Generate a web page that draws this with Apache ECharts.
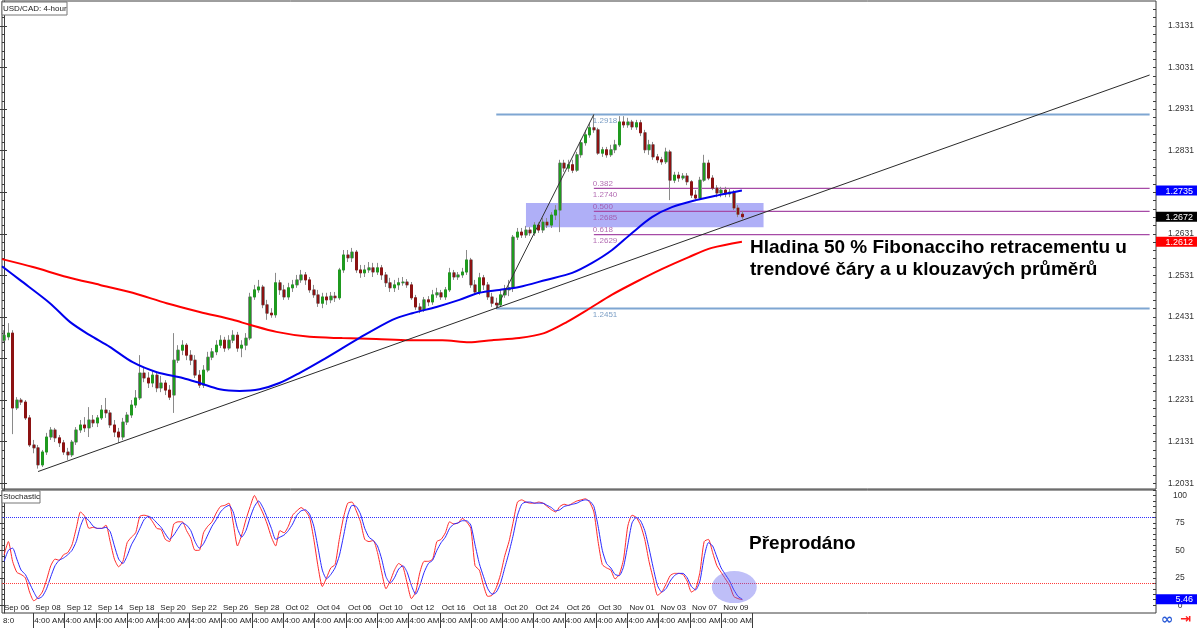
<!DOCTYPE html>
<html><head><meta charset="utf-8">
<script src="https://cdn.jsdelivr.net/npm/echarts@6.0.0/dist/echarts.min.js"></script>
<style>html,body{margin:0;padding:0;background:#fff}#c{width:1200px;height:628px}</style>
</head><body><div id="c"></div>
<script>
// ---------- DATA ----------
const candles = [ // [open, close, low, high]
[1.2375,1.2387,1.2371,1.2399],[1.2383,1.2392,1.2375,1.2416],[1.2392,1.2212,1.2149,1.2399],[1.2212,1.2231,1.2207,1.2238],[1.2231,1.2226,1.2219,1.2236],
[1.2226,1.2188,1.2183,1.2231],[1.2188,1.2123,1.2118,1.2195],[1.2123,1.2116,1.2103,1.2135],[1.2116,1.2075,1.2066,1.2123],[1.2075,1.2106,1.2070,1.2111],
[1.2106,1.2142,1.2099,1.2152],[1.2142,1.2159,1.2135,1.2166],[1.2159,1.2140,1.2130,1.2164],[1.2140,1.2128,1.2118,1.2147],[1.2128,1.2106,1.2099,1.2135],
[1.2106,1.2099,1.2087,1.2116],[1.2099,1.2130,1.2094,1.2135],[1.2130,1.2159,1.2123,1.2166],[1.2159,1.2171,1.2152,1.2183],[1.2171,1.2164,1.2154,1.2190],
[1.2164,1.2183,1.2142,1.2214],[1.2183,1.2176,1.2166,1.2195],[1.2176,1.2188,1.2166,1.2195],[1.2188,1.2207,1.2183,1.2219],[1.2207,1.2200,1.2188,1.2236],
[1.2200,1.2171,1.2164,1.2207],[1.2171,1.2154,1.2142,1.2183],[1.2154,1.2142,1.2128,1.2164],[1.2142,1.2178,1.2135,1.2188],[1.2178,1.2195,1.2171,1.2202],
[1.2195,1.2219,1.2188,1.2231],[1.2219,1.2236,1.2212,1.2255],[1.2236,1.2296,1.2231,1.2339],[1.2296,1.2284,1.2274,1.2308],[1.2284,1.2272,1.2260,1.2298],
[1.2272,1.2291,1.2262,1.2303],[1.2291,1.2260,1.2250,1.2298],[1.2260,1.2272,1.2250,1.2289],[1.2272,1.2255,1.2243,1.2279],[1.2255,1.2238,1.2231,1.2267],
[1.2243,1.2327,1.2200,1.2392],[1.2327,1.2351,1.2320,1.2363],[1.2351,1.2363,1.2339,1.2375],[1.2363,1.2339,1.2327,1.2368],[1.2339,1.2327,1.2315,1.2351],
[1.2327,1.2291,1.2284,1.2339],[1.2291,1.2267,1.2260,1.2303],[1.2267,1.2303,1.2260,1.2315],[1.2303,1.2334,1.2298,1.2347],[1.2334,1.2347,1.2327,1.2356],
[1.2347,1.2363,1.2339,1.2375],[1.2363,1.2375,1.2356,1.2387],[1.2375,1.2356,1.2347,1.2383],[1.2356,1.2375,1.2351,1.2387],[1.2375,1.2387,1.2368,1.2399],
[1.2387,1.2356,1.2347,1.2395],[1.2356,1.2363,1.2334,1.2375],[1.2363,1.2380,1.2351,1.2392],[1.2380,1.2479,1.2375,1.2489],[1.2479,1.2496,1.2472,1.2508],
[1.2496,1.2503,1.2489,1.2520],[1.2503,1.2460,1.2452,1.2508],[1.2460,1.2440,1.2424,1.2472],[1.2440,1.2436,1.2429,1.2452],[1.2436,1.2513,1.2429,1.2537],
[1.2513,1.2496,1.2484,1.2520],[1.2496,1.2479,1.2472,1.2508],[1.2479,1.2501,1.2472,1.2513],[1.2501,1.2508,1.2491,1.2520],[1.2508,1.2520,1.2501,1.2532],
[1.2520,1.2532,1.2513,1.2544],[1.2532,1.2520,1.2508,1.2539],[1.2520,1.2496,1.2489,1.2527],[1.2496,1.2484,1.2477,1.2508],[1.2484,1.2464,1.2455,1.2496],
[1.2464,1.2479,1.2452,1.2489],[1.2479,1.2472,1.2460,1.2489],[1.2472,1.2481,1.2464,1.2491],[1.2481,1.2477,1.2467,1.2491],[1.2477,1.2544,1.2472,1.2549],
[1.2544,1.2580,1.2537,1.2592],[1.2580,1.2573,1.2563,1.2592],[1.2573,1.2587,1.2563,1.2597],[1.2587,1.2544,1.2537,1.2592],[1.2544,1.2537,1.2525,1.2556],
[1.2537,1.2544,1.2527,1.2556],[1.2544,1.2549,1.2537,1.2563],[1.2549,1.2539,1.2527,1.2561],[1.2539,1.2549,1.2532,1.2561],[1.2549,1.2532,1.2520,1.2556],
[1.2532,1.2513,1.2503,1.2539],[1.2513,1.2501,1.2491,1.2525],[1.2501,1.2508,1.2491,1.2520],[1.2508,1.2513,1.2496,1.2525],[1.2513,1.2515,1.2506,1.2527],
[1.2515,1.2508,1.2501,1.2522],[1.2508,1.2477,1.2472,1.2515],[1.2477,1.2455,1.2448,1.2484],[1.2455,1.2448,1.2440,1.2464],[1.2448,1.2472,1.2443,1.2479],
[1.2472,1.2467,1.2457,1.2481],[1.2467,1.2484,1.2460,1.2496],[1.2484,1.2489,1.2477,1.2501],[1.2489,1.2479,1.2472,1.2496],[1.2479,1.2496,1.2472,1.2503],
[1.2496,1.2537,1.2491,1.2549],[1.2537,1.2527,1.2520,1.2544],[1.2527,1.2532,1.2520,1.2539],[1.2532,1.2539,1.2525,1.2549],[1.2539,1.2568,1.2532,1.2592],
[1.2568,1.2508,1.2501,1.2573],[1.2508,1.2491,1.2484,1.2520],[1.2491,1.2525,1.2484,1.2537],[1.2525,1.2508,1.2496,1.2532],[1.2508,1.2479,1.2472,1.2515],
[1.2479,1.2464,1.2455,1.2489],[1.2464,1.2460,1.2451,1.2477],[1.2460,1.2484,1.2455,1.2496],[1.2484,1.2496,1.2477,1.2508],[1.2496,1.2501,1.2481,1.2520],
[1.2501,1.2623,1.2491,1.2628],[1.2623,1.2635,1.2616,1.2645],[1.2635,1.2628,1.2621,1.2645],[1.2628,1.2640,1.2621,1.2650],[1.2640,1.2633,1.2626,1.2647],
[1.2633,1.2652,1.2626,1.2659],[1.2652,1.2640,1.2633,1.2659],[1.2640,1.2659,1.2633,1.2669],[1.2659,1.2652,1.2645,1.2669],[1.2652,1.2676,1.2645,1.2683],
[1.2676,1.2688,1.2664,1.2700],[1.2688,1.2801,1.2635,1.2809],[1.2801,1.2789,1.2780,1.2809],[1.2789,1.2797,1.2780,1.2809],[1.2797,1.2784,1.2777,1.2809],
[1.2784,1.2821,1.2780,1.2828],[1.2821,1.2850,1.2814,1.2857],[1.2850,1.2869,1.2843,1.2881],[1.2869,1.2886,1.2862,1.2898],[1.2886,1.2881,1.2874,1.2918],
[1.2881,1.2825,1.2821,1.2886],[1.2825,1.2833,1.2816,1.2840],[1.2833,1.2821,1.2814,1.2840],[1.2821,1.2833,1.2816,1.2845],[1.2833,1.2845,1.2825,1.2857],
[1.2845,1.2900,1.2840,1.2914],[1.2900,1.2893,1.2886,1.2914],[1.2893,1.2900,1.2886,1.2910],[1.2900,1.2888,1.2881,1.2905],[1.2888,1.2898,1.2881,1.2905],
[1.2898,1.2874,1.2866,1.2905],[1.2874,1.2833,1.2825,1.2881],[1.2833,1.2845,1.2821,1.2857],[1.2845,1.2816,1.2809,1.2852],[1.2816,1.2809,1.2801,1.2823],
[1.2809,1.2804,1.2797,1.2816],[1.2804,1.2828,1.2799,1.2838],[1.2828,1.2760,1.2712,1.2833],[1.2760,1.2772,1.2753,1.2780],[1.2772,1.2765,1.2756,1.2780],
[1.2765,1.2770,1.2760,1.2777],[1.2770,1.2756,1.2748,1.2777],[1.2756,1.2724,1.2717,1.2760],[1.2724,1.2717,1.2712,1.2736],[1.2717,1.2760,1.2712,1.2768],
[1.2760,1.2801,1.2756,1.2821],[1.2801,1.2765,1.2760,1.2809],[1.2765,1.2741,1.2736,1.2772],[1.2741,1.2729,1.2719,1.2748],[1.2729,1.2736,1.2719,1.2744],
[1.2736,1.2727,1.2719,1.2744],[1.2727,1.2731,1.2719,1.2741],[1.2731,1.2693,1.2688,1.2736],[1.2693,1.2678,1.2671,1.2700],[1.2678,1.2672,1.2666,1.2686]
];
// moving averages (bar index, value)
const ma100Idx = [-0.5,3.7,10.8,15.5,20.2,24.9,30.3,36,42.1,46.1,50.8,55.5,60.2,64.9,69.6,75,83.7,91.5,96.2,101.9,107.3,112,116.7,121.4,127.7,133.9,138.6,143.3,148,152.7,157.4,163.1,168.4,173.9];
const ma100Val = [1.2553,1.2520,1.2464,1.2419,1.2387,1.2359,1.2322,1.2298,1.2284,1.2272,1.2257,1.2253,1.2257,1.2272,1.2296,1.2327,1.2380,1.2424,1.2440,1.2455,1.2472,1.2489,1.2496,1.2503,1.2520,1.2537,1.2561,1.2592,1.2633,1.2671,1.2695,1.2712,1.2724,1.2735];
const ma200Idx = [-0.5,6.8,14.8,22.6,30.3,38.3,46.1,53.9,57.9,64.2,72,79.7,87.7,95.5,103.3,109.6,115,121.4,127.3,132.7,137.8,143.2,148.9,155,161.4,166.8,173.9];
const ma200Val = [1.2570,1.2551,1.2527,1.2508,1.2489,1.2464,1.2443,1.2424,1.2412,1.2395,1.2383,1.2380,1.2378,1.2375,1.2375,1.2370,1.2375,1.2380,1.2392,1.2419,1.2450,1.2484,1.2515,1.2546,1.2575,1.2597,1.2612];
// trend line (bar index, price)
const trendIdx = [8, 270];
const trendVal = [1.2059, 1.3013];
// fibonacci
const swingLowIdx = 116, swingHighIdx = 139, lineEndIdx = 270;
const swingLow = 1.2451, swingHigh = 1.2918;
const fibRatios = ['0.382', '0.500', '0.618'];
const fibPrices = [1.2740, 1.2685, 1.2629];
const zoneIdx = [123, 179];
const zoneVal = [1.2705, 1.2647];
// stochastic
const stochK = [46,58,40,30,28,25,12,4,7,12,23,36,42,41,46,48,55,70,85,81,70,71,70,70,73,58,42,35,40,57,62,66,81,82,81,76,70,69,60,58,74,76,76,68,61,50,50,66,72,76,84,90,91,93,75,54,64,78,90,100,92,84,74,62,54,68,66,72,82,86,89,86,80,60,35,17,25,34,37,60,80,93,94,86,76,60,58,59,48,30,15,22,32,38,35,20,6,12,30,40,40,42,58,60,66,76,74,75,79,76,70,36,32,18,8,9,16,28,45,58,76,94,96,94,93,93,94,93,90,87,85,90,92,91,93,95,96,97,94,85,58,37,34,32,24,28,42,72,82,80,73,60,40,24,9,12,19,27,29,29,28,22,12,15,30,58,60,48,36,30,24,18,8,6,5];
const stochD = [40,50,52,42,32,28,20,12,6,8,15,26,36,41,43,46,50,58,72,80,77,72,70,70,71,67,54,42,38,45,55,62,70,78,81,79,75,71,65,60,64,70,75,73,68,58,52,56,64,72,78,85,89,91,85,70,62,68,80,90,95,89,80,70,60,62,64,68,74,82,86,87,83,72,52,32,24,28,34,45,63,82,91,90,83,70,62,59,54,42,26,20,25,33,36,30,18,10,18,30,38,41,50,57,62,70,74,75,77,77,73,55,38,26,15,10,12,20,34,48,64,82,92,94,94,93,93,93,91,89,86,87,90,91,92,93,95,96,95,90,72,50,38,34,28,27,35,55,75,80,77,68,52,34,18,12,15,22,27,29,29,25,17,14,22,44,57,54,44,34,28,22,14,8,5.46];
const stochLevels = [80, 20];
const stochMark = [172.1, 16.5];
// axis labels
const priceLabels = [1.2031,1.2131,1.2231,1.2331,1.2431,1.2531,1.2631,1.2831,1.2931,1.3031,1.3131];
const priceMajorTicks = [1.2031,1.2131,1.2231,1.2331,1.2431,1.2531,1.2631,1.2731,1.2831,1.2931,1.3031,1.3131];
const priceBoxes = [1.2735, 1.2672, 1.2612];
const stochLabels = [0, 25, 50, 75, 100];
const stochBox = 5.46;
const dateLabels = ['Sep 06','Sep 08','Sep 12','Sep 14','Sep 18','Sep 20','Sep 22','Sep 26','Sep 28','Oct 02','Oct 04','Oct 06','Oct 10','Oct 12','Oct 16','Oct 18','Oct 20','Oct 24','Oct 26','Oct 30','Nov 01','Nov 03','Nov 07','Nov 09'];
const timeLabels = ['8:0','4:00 AM','4:00 AM','4:00 AM','4:00 AM','4:00 AM','4:00 AM','4:00 AM','4:00 AM','4:00 AM','4:00 AM','4:00 AM','4:00 AM','4:00 AM','4:00 AM','4:00 AM','4:00 AM','4:00 AM','4:00 AM','4:00 AM','4:00 AM','4:00 AM','4:00 AM','4:00 AM'];

// ---------- BUILD ----------
const SLOTS = 272, LABEL_SLOTS = 38;
const cats = Array.from({length: SLOTS}, (_, i) => String(i));
const pad = (arr, n) => arr.concat(Array(n - arr.length).fill(''));
const FONT = "'Liberation Sans', Arial, sans-serif";
const PMIN = 1.2017, PMAX = 1.3191, SMIN = -7.1, SMAX = 105;
const minorP = []; for (let v = 1.2031; v < PMAX; v += 0.002) minorP.push(+v.toFixed(4));
const minorS = []; for (let v = 0; v <= 105; v += 5) minorS.push(v);
const pairs = (xs, ys) => xs.map((x, i) => [x, ys[i]]);
const seg = (a, b, v1, v2) => [[a, v1], [b, v2]];
// candle bodies without wicks (drawn over gray full candles so wicks stay gray)
const bodies = candles.map(c => [c[0], c[1], Math.min(c[0], c[1]), Math.max(c[0], c[1])]);

const boxStyles = ['blue', 'black', 'red'];
const mkBox = (bg) => ({backgroundColor: bg, color: '#fff', width: 33, align: 'right', padding: [1, 4, 0, 4], lineHeight: 11, fontSize: 9, fontFamily: FONT});
const boxRich = {blue: mkBox('#0000ff'), black: mkBox('#000000'), red: mkBox('#ff0000')};
const tickLine = {color: '#3c3c3c'};

const option = {
  animation: false,
  backgroundColor: '#fff',
  grid: [
    {left: 2, right: 41, top: 1, height: 488, show: true, borderColor: '#3c3c3c', borderWidth: 1},
    {left: 2, right: 41, top: 490, height: 123, show: true, borderColor: '#3c3c3c', borderWidth: 1},
    {left: 0, right: 41, top: 490, height: 123, show: false}
  ],
  xAxis: [
    {type: 'category', gridIndex: 0, data: cats, boundaryGap: true, show: false},
    {type: 'value', gridIndex: 0, min: -0.5, max: SLOTS - 0.5, show: false},
    {type: 'category', gridIndex: 1, data: cats, boundaryGap: true, show: false},
    {type: 'value', gridIndex: 1, min: -0.5, max: SLOTS - 0.5, show: false},
    {type: 'category', gridIndex: 2, data: pad(dateLabels, LABEL_SLOTS), boundaryGap: false, position: 'bottom',
      axisLine: {show: false}, axisTick: {show: false}, splitLine: {show: false},
      axisLabel: {inside: true, interval: 0, align: 'left', margin: 1, color: '#222', fontSize: 8, fontFamily: FONT, padding: [0, 0, 0, 2]}},
    {type: 'category', gridIndex: 2, data: pad(timeLabels, LABEL_SLOTS), boundaryGap: false, position: 'bottom',
      axisLine: {show: false}, splitLine: {show: false},
      axisTick: {show: true, inside: false, length: 15, interval: (i) => i >= 1 && i <= timeLabels.length, lineStyle: tickLine},
      axisLabel: {interval: 0, align: 'left', margin: 4, color: '#222', fontSize: 8, fontFamily: FONT, padding: [0, 0, 0, 1]}}
  ],
  yAxis: [
    {type: 'value', gridIndex: 0, position: 'right', min: PMIN, max: PMAX, splitLine: {show: false},
      axisLine: {show: true, lineStyle: tickLine},
      axisTick: {show: true, inside: true, length: 6, customValues: priceMajorTicks, lineStyle: tickLine},
      axisLabel: {customValues: priceLabels, formatter: (v) => v.toFixed(4), align: 'right', margin: 38, color: '#333', fontSize: 8.5, fontFamily: FONT}},
    {type: 'value', gridIndex: 0, position: 'right', min: PMIN, max: PMAX, splitLine: {show: false}, axisLine: {show: false},
      axisTick: {show: true, inside: true, length: 3, customValues: minorP, lineStyle: tickLine}, axisLabel: {show: false}},
    {type: 'value', gridIndex: 0, position: 'right', min: PMIN, max: PMAX, splitLine: {show: false}, axisLine: {show: false}, axisTick: {show: false},
      axisLabel: {customValues: priceBoxes, align: 'right', margin: 41, rich: boxRich,
        formatter: (v) => { const k = priceBoxes.findIndex(b => Math.abs(b - v) < 1e-6); return '{' + boxStyles[k < 0 ? 0 : k] + '|' + v.toFixed(4) + '}'; }}},
    {type: 'value', gridIndex: 0, position: 'left', min: PMIN, max: PMAX, splitLine: {show: false}, axisLine: {show: false},
      axisTick: {show: true, inside: true, length: 5, customValues: priceMajorTicks, lineStyle: tickLine}, axisLabel: {show: false}},
    {type: 'value', gridIndex: 0, position: 'left', min: PMIN, max: PMAX, splitLine: {show: false}, axisLine: {show: false},
      axisTick: {show: true, inside: true, length: 3, customValues: minorP, lineStyle: tickLine}, axisLabel: {show: false}},
    {type: 'value', gridIndex: 1, position: 'right', min: SMIN, max: SMAX, splitLine: {show: false},
      axisLine: {show: true, lineStyle: tickLine},
      axisTick: {show: true, inside: true, length: 6, customValues: stochLabels, lineStyle: tickLine},
      axisLabel: {customValues: stochLabels, align: 'center', margin: 24, color: '#333', fontSize: 8.5, fontFamily: FONT}},
    {type: 'value', gridIndex: 1, position: 'right', min: SMIN, max: SMAX, splitLine: {show: false}, axisLine: {show: false},
      axisTick: {show: true, inside: true, length: 3, customValues: minorS, lineStyle: tickLine}, axisLabel: {show: false}},
    {type: 'value', gridIndex: 1, position: 'right', min: SMIN, max: SMAX, splitLine: {show: false}, axisLine: {show: false}, axisTick: {show: false},
      axisLabel: {customValues: [stochBox], align: 'right', margin: 41, rich: boxRich, formatter: (v) => '{blue|' + v.toFixed(2) + '}'}},
    {type: 'value', gridIndex: 1, position: 'left', min: SMIN, max: SMAX, splitLine: {show: false}, axisLine: {show: false},
      axisTick: {show: true, inside: true, length: 3, customValues: minorS, lineStyle: tickLine}, axisLabel: {show: false}},
    {type: 'value', gridIndex: 2, show: false}
  ],
  series: [
    {type: 'candlestick', name: 'USDCAD wicks', xAxisIndex: 0, yAxisIndex: 0, data: candles, barWidth: 3,
      itemStyle: {color: '#8a8a8a', color0: '#8a8a8a', borderColor: '#8a8a8a', borderColor0: '#8a8a8a', borderWidth: 1}, z: 2},
    {type: 'candlestick', name: 'USDCAD', xAxisIndex: 0, yAxisIndex: 0, data: bodies, barWidth: 2,
      itemStyle: {color: '#1f9a1f', color0: '#8c1212', borderColor: '#1f9a1f', borderColor0: '#8c1212', borderWidth: 1}, z: 2},
    {type: 'line', name: 'MA200', xAxisIndex: 1, yAxisIndex: 0, data: pairs(ma200Idx, ma200Val), smooth: 0.3, showSymbol: false,
      lineStyle: {color: '#ff0000', width: 2}, z: 3},
    {type: 'line', name: 'MA100', xAxisIndex: 1, yAxisIndex: 0, data: pairs(ma100Idx, ma100Val), smooth: 0.3, showSymbol: false,
      lineStyle: {color: '#0000ee', width: 2}, z: 3},
    {type: 'line', name: 'trend', xAxisIndex: 1, yAxisIndex: 0, data: pairs(trendIdx, trendVal), showSymbol: false,
      lineStyle: {color: '#2a2a2a', width: 1}, z: 4},
    {type: 'line', name: 'fibDiag', xAxisIndex: 1, yAxisIndex: 0, data: seg(swingLowIdx, swingHighIdx, swingLow, swingHigh), showSymbol: false,
      lineStyle: {color: '#333', width: 1}, z: 4},
    {type: 'line', name: 'fibHigh', xAxisIndex: 1, yAxisIndex: 0, data: seg(swingLowIdx, lineEndIdx, swingHigh, swingHigh), showSymbol: false,
      lineStyle: {color: '#7ea6d2', width: 2}, z: 1},
    {type: 'line', name: 'fibLow', xAxisIndex: 1, yAxisIndex: 0, data: seg(swingLowIdx, lineEndIdx, swingLow, swingLow), showSymbol: false,
      lineStyle: {color: '#7ea6d2', width: 2}, z: 1},
    ...fibPrices.map((p, k) => ({type: 'line', name: 'fib' + fibRatios[k], xAxisIndex: 1, yAxisIndex: 0,
      data: seg(swingHighIdx, lineEndIdx, p, p), showSymbol: false, lineStyle: {color: '#a64aa6', width: 1.3}, z: 1,
      markArea: k === 1 ? {silent: true, itemStyle: {color: 'rgba(88,88,238,0.48)'},
        data: [[{coord: [zoneIdx[0], zoneVal[0]]}, {coord: [zoneIdx[1], zoneVal[1]]}]]} : undefined})),
    {type: 'scatter', name: 'fibText', xAxisIndex: 1, yAxisIndex: 0, symbolSize: 0, z: 6,
      data: [
        {value: [swingHighIdx, swingHigh], label: {formatter: swingHigh.toFixed(4), offset: [0, 6], color: '#5a86b6'}},
        {value: [swingHighIdx, swingLow], label: {formatter: swingLow.toFixed(4), offset: [0, 6], color: '#5a86b6'}},
        ...fibPrices.map((p, k) => ({value: [swingHighIdx, p], label: {formatter: fibRatios[k], offset: [0, -5], color: '#a04aa0'}})),
        ...fibPrices.map((p) => ({value: [swingHighIdx, p], label: {formatter: p.toFixed(4), offset: [0, 6], color: '#a04aa0'}}))
      ],
      label: {show: true, position: 'right', distance: -1, fontSize: 8, fontFamily: FONT}},
    {type: 'line', name: 'StochMain', xAxisIndex: 2, yAxisIndex: 5, data: stochK, showSymbol: false, smooth: 0.2,
      lineStyle: {color: '#ff2a2a', width: 1},
      markLine: {silent: true, symbol: 'none', label: {show: false}, lineStyle: {color: '#ff3c3c', type: 'dotted', width: 1},
        data: [{yAxis: stochLevels[1]}]}},
    {type: 'line', name: 'StochSignal', xAxisIndex: 2, yAxisIndex: 5, data: stochD, showSymbol: false, smooth: 0.2,
      lineStyle: {color: '#2a2aff', width: 1},
      markLine: {silent: true, symbol: 'none', label: {show: false}, lineStyle: {color: '#3030ff', type: 'dotted', width: 1},
        data: [{yAxis: stochLevels[0]}]}},
    {type: 'scatter', name: 'oversold', xAxisIndex: 3, yAxisIndex: 5, data: [stochMark], symbol: 'circle', symbolSize: [45, 32],
      itemStyle: {color: 'rgba(88,88,238,0.48)'}, z: 6}
  ],
  graphic: [
    {type: 'rect', shape: {x: 2, y: 2, width: 65, height: 13}, style: {fill: '#fff', stroke: '#777', lineWidth: 1}, z: 100},
    {type: 'text', x: 3, y: 8.5, style: {text: 'USD/CAD: 4-hour', font: "8px " + FONT, fill: '#222', textVerticalAlign: 'middle'}, z: 101},
    {type: 'rect', shape: {x: 2, y: 491, width: 38, height: 12}, style: {fill: '#fff', stroke: '#777', lineWidth: 1}, z: 100},
    {type: 'text', x: 3, y: 497, style: {text: 'Stochastic', font: "8px " + FONT, fill: '#222', textVerticalAlign: 'middle'}, z: 101},
    {type: 'text', x: 750, y: 248, style: {text: 'Hladina 50 % Fibonacciho retracementu u', font: "bold 19px 'Liberation Sans', Arial, sans-serif", fill: '#000', textVerticalAlign: 'middle'}, z: 101},
    {type: 'text', x: 750, y: 270, style: {text: 'trendové čáry a u klouzavých průměrů', font: "bold 19px 'Liberation Sans', Arial, sans-serif", fill: '#000', textVerticalAlign: 'middle'}, z: 101},
    {type: 'text', x: 749, y: 544, style: {text: 'Přeprodáno', font: "bold 19px 'Liberation Sans', Arial, sans-serif", fill: '#000', textVerticalAlign: 'middle'}, z: 101},
    {type: 'text', x: 1161, y: 620, style: {text: '∞', font: "bold 15px 'DejaVu Sans', sans-serif", fill: '#2a5bd7', textVerticalAlign: 'middle'}, z: 101},
    {type: 'text', x: 1180, y: 620, style: {text: '⇥', font: "bold 13px 'DejaVu Sans', sans-serif", fill: '#ff2020', textVerticalAlign: 'middle'}, z: 101}
  ]
};
const chart = echarts.init(document.getElementById('c'), null, {renderer: 'canvas'});
chart.setOption(option);
</script></body></html>
